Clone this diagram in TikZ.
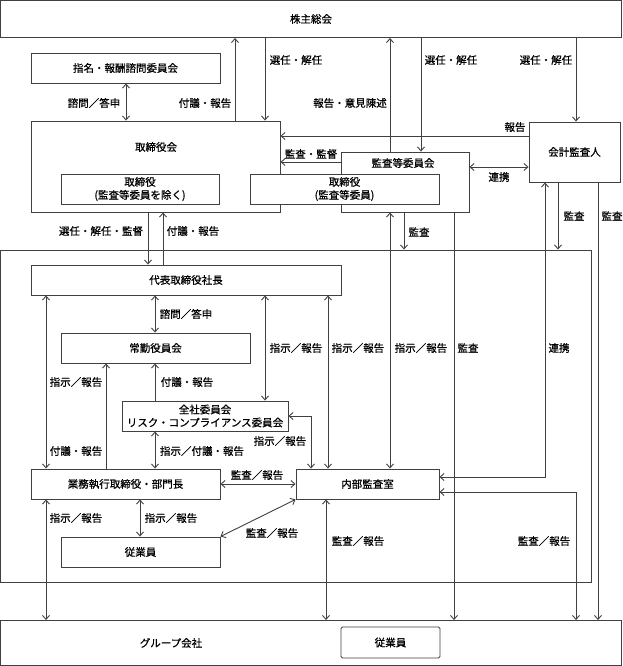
\documentclass[tikz,border=0pt]{standalone}
\usepackage{fontspec}
\setmainfont{Noto Sans CJK JP}[RawFeature={embolden=0.8}]
\usetikzlibrary{arrows.meta}
\definecolor{lc}{gray}{0.25}
\begin{document}
\begin{tikzpicture}[x=1pt,y=-1pt,
  every node/.style={font=\fontsize{10.5pt}{13pt}\selectfont, inner sep=0pt},
  box/.style={draw=lc, line width=0.9pt, fill=white},
  lbl/.style={text=black},
  arr/.style={draw=lc, line width=0.9pt, -{Straight Barb[length=4pt,width=7pt]}},
  darr/.style={draw=lc, line width=0.9pt, {Straight Barb[length=4pt,width=7pt]}-{Straight Barb[length=4pt,width=7pt]}}]
\useasboundingbox (0,0) rectangle (623,666);
% container
\node[draw=lc, line width=0.9pt, minimum width=590.5pt, minimum height=332pt] (shanai) at (295.75,416) {};
% boxes
\node[box, minimum width=621pt, minimum height=37pt] (soukai) at (311,19) {株主総会};
\node[box, minimum width=189pt, minimum height=30pt] (shimei) at (125.5,68) {指名・報酬諮問委員会};
\node[box, minimum width=249pt, minimum height=91pt] (torikai) at (155.5,166.5) {};
\node[lbl] (torikaiT) at (156,147) {取締役会};
\node[box, minimum width=158pt, minimum height=30pt, align=center] (tori1) at (140,189) {取締役\\(監査等委員を除く)};
\node[box, minimum width=128pt, minimum height=60pt] (kansa) at (405,182) {};
\node[lbl] (kansaT) at (403,163) {監査等委員会};
\node[box, minimum width=189pt, minimum height=30pt, align=center] (tori2) at (344.5,189) {取締役\\(監査等委員)};
\node[box, minimum width=91pt, minimum height=60pt] (kaikei) at (574.5,152) {会計監査人};
\node[box, minimum width=310pt, minimum height=30pt] (daihyo) at (186,280) {代表取締役社長};
\node[box, minimum width=189pt, minimum height=30pt] (joukin) at (155.5,348) {常勤役員会};
\node[box, minimum width=166pt, minimum height=30pt, align=center] (zensha) at (205,416) {全社委員会\\リスク・コンプライアンス委員会};
\node[box, minimum width=189pt, minimum height=30pt] (gyomu) at (125.5,484) {業務執行取締役・部門長};
\node[box, minimum width=143pt, minimum height=30pt] (naibu) at (367.5,484) {内部監査室};
\node[box, minimum width=159pt, minimum height=30pt] (jugyo) at (140.5,552) {従業員};
\node[box, minimum width=621pt, minimum height=45pt] (group) at (311,643) {};
\node[lbl] (groupT) at (171,643) {グループ会社};
\node[box, rounded corners=1.5pt, minimum width=99pt, minimum height=31pt] (jugyo2) at (390.5,642.5) {従業員};
% helper coordinates
\foreach \x in {46,106,126,140,148,155,163,235,265,311,326,328,390,404,421,454,545,558,576,598}
  \coordinate (k\x) at (\x,0);
\foreach \y in {136,162,167,477,492}
  \coordinate (r\y) at (0,\y);
% connectors
\draw[arr] (k235 |- torikai.north) -- (k235 |- soukai.south);
\draw[arr] (k265 |- soukai.south) -- (k265 |- torikai.north);
\draw[arr] (k390 |- kansa.north) -- (k390 |- soukai.south);
\draw[arr] (k421 |- soukai.south) -- (k421 |- kansa.north);
\draw[arr] (k576 |- soukai.south) -- (k576 |- kaikei.north);
\draw[darr] (k126 |- shimei.south) -- (k126 |- torikai.north);
\draw[arr] (kaikei.west |- r136) -- (torikai.east |- r136);
\draw[arr] (kansa.west |- r162) -- (torikai.east |- r162);
\draw[darr] (kansa.east |- r167) -- (kaikei.west |- r167);
\draw[arr] (k148 |- torikai.south) -- (k148 |- daihyo.north);
\draw[arr] (k163 |- daihyo.north) -- (k163 |- torikai.south);
\draw[arr] (k404 |- kansa.south) -- (k404 |- shanai.north);
\draw[arr] (k558 |- kaikei.south) -- (k558 |- shanai.north);
\draw[arr] (k598 |- kaikei.south) -- (k598 |- group.north);
\draw[darr] (k545 |- kaikei.south) |- (naibu.east |- r477);
\draw[arr] (k454 |- kansa.south) -- (k454 |- group.north);
\draw[darr] (k390 |- kansa.south) -- (k390 |- naibu.north);
\draw[darr] (k328 |- daihyo.south) -- (k328 |- naibu.north);
\draw[darr] (k265 |- daihyo.south) -- (k265 |- zensha.north);
\draw[darr] (zensha.east) -| (k311 |- naibu.north);
\draw[darr] (k46 |- daihyo.south) -- (k46 |- gyomu.north);
\draw[darr] (k155 |- daihyo.south) -- (k155 |- joukin.north);
\draw[arr] (k106 |- gyomu.north) -- (k106 |- joukin.south);
\draw[arr] (k155 |- zensha.north) -- (k155 |- joukin.south);
\draw[darr] (k155 |- gyomu.north) -- (k155 |- zensha.south);
\draw[darr] (gyomu.east) -- (naibu.west);
\draw[darr] (jugyo.north east) -- (naibu.south west);
\draw[darr] (k140 |- gyomu.south) -- (k140 |- jugyo.north);
\draw[darr] (k46 |- gyomu.south) -- (k46 |- group.north);
\draw[darr] (k326 |- naibu.south) -- (k326 |- group.north);
\draw[darr] (naibu.east |- r492) -| (k576 |- group.north);
% labels
\node[lbl] (l01) at (205,103) {付議・報告};
\node[lbl] (l02) at (296,60) {選任・解任};
\node[lbl] (l03) at (350,103) {報告・意見陳述};
\node[lbl] (l04) at (451,60) {選任・解任};
\node[lbl] (l05) at (546,60) {選任・解任};
\node[lbl] (l06) at (94,103) {諮問／答申};
\node[lbl] (l07) at (515,127) {報告};
\node[lbl] (l08) at (311,154) {監査・監督};
\node[lbl] (l09) at (499,177) {連携};
\node[lbl] (l10) at (101,231) {選任・解任・監督};
\node[lbl] (l11) at (193,231) {付議・報告};
\node[lbl] (l12) at (419,232) {監査};
\node[lbl] (l13) at (574,216) {監査};
\node[lbl] (l14) at (612,216) {監査};
\node[lbl] (l15) at (559,348) {連携};
\node[lbl] (l16) at (468,348) {監査};
\node[lbl] (l17) at (421,348) {指示／報告};
\node[lbl] (l18) at (358,348) {指示／報告};
\node[lbl] (l19) at (296,348) {指示／報告};
\node[lbl] (l20) at (280,441) {指示／報告};
\node[lbl] (l21) at (76,382) {指示／報告};
\node[lbl] (l22) at (186,314) {諮問／答申};
\node[lbl] (l23) at (76,451) {付議・報告};
\node[lbl] (l24) at (187,382) {付議・報告};
\node[lbl] (l25) at (202,451) {指示／付議・報告};
\node[lbl] (l26) at (257,475) {監査／報告};
\node[lbl] (l27) at (272,533) {監査／報告};
\node[lbl] (l28) at (171,518) {指示／報告};
\node[lbl] (l29) at (76,518) {指示／報告};
\node[lbl] (l30) at (358,541) {監査／報告};
\node[lbl] (l31) at (544,541) {監査／報告};
\end{tikzpicture}
\end{document}
